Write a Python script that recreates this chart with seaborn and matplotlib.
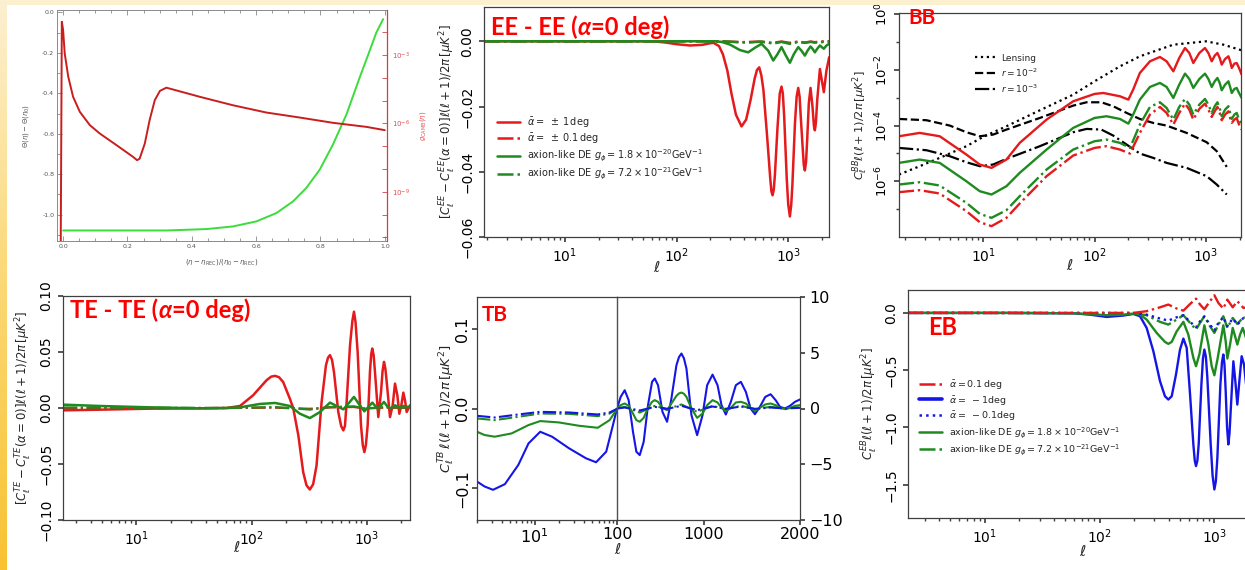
import matplotlib
matplotlib.use("Agg")
import matplotlib.pyplot as plt
import numpy as np
import seaborn as sns
from matplotlib.lines import Line2D
from matplotlib.patches import Rectangle
from matplotlib.colors import LinearSegmentedColormap
from matplotlib.ticker import FixedLocator, FixedFormatter, NullFormatter, MultipleLocator

# ---------------------------------------------------------------- data
# birefringence angle history: Theta(eta)-Theta(eta0) and visibility g(eta)
theta_x = [0.0, 0.321, 0.446, 0.528, 0.601, 0.663, 0.715, 0.756, 0.798, 0.839, 0.881, 0.922, 0.953, 0.974, 0.995]
theta_y = [-1.078, -1.078, -1.071, -1.058, -1.033, -0.992, -0.934, -0.868, -0.777, -0.653, -0.504, -0.322, -0.190, -0.099, -0.033]
g_x = [-0.0073, -0.004, 0.0, 0.005, 0.016, 0.031, 0.052, 0.083, 0.114, 0.166, 0.218, 0.230, 0.238, 0.254, 0.269,
       0.285, 0.301, 0.321, 0.342, 0.425, 0.528, 0.632, 0.736, 0.839, 0.943, 1.0]
g_y = [7.1e-12, 2.9e-2, 1.26e-2, 1.17e-3, 1.12e-4, 1.48e-5, 3.24e-6, 8.5e-7, 3.63e-7, 1.12e-7, 3.39e-8, 2.45e-8,
       2.88e-8, 1.32e-7, 1.41e-6, 1.05e-5, 2.69e-5, 3.72e-5, 3.09e-5, 1.48e-5, 6.3e-6, 3.02e-6, 1.82e-6, 1.07e-6,
       7.1e-7, 5.1e-7]

# EE difference spectra
ee_ell_a1 = [1.88, 20, 62, 80, 100, 132, 170, 200, 215, 240, 260, 285, 310, 340, 382, 420, 460, 500, 525, 550,
             575, 600, 650, 690, 707, 724, 742, 760, 800, 840, 871, 895, 920, 970, 1000, 1035, 1065, 1090, 1150,
             1190, 1230, 1265, 1300, 1350, 1380, 1410, 1445, 1480, 1530, 1585, 1650, 1700, 1733, 1770, 1820, 1923,
             2000, 2086, 2200, 2328]
ee_a1 = [0, 0, 0, -0.0004, -0.0009, -0.0013, -0.0011, -0.0006, -0.0005, -0.0015, -0.0040, -0.0090, -0.0160,
         -0.0225, -0.0261, -0.0240, -0.0180, -0.0115, -0.0088, -0.0080, -0.0105, -0.0150, -0.0300, -0.0420,
         -0.0460, -0.0472, -0.0455, -0.0410, -0.0270, -0.0160, -0.0139, -0.0160, -0.0230, -0.0420, -0.0500,
         -0.0537, -0.0500, -0.0440, -0.0250, -0.0170, -0.0143, -0.0170, -0.0240, -0.0330, -0.0380, -0.0396,
         -0.0370, -0.0300, -0.0190, -0.0143, -0.0200, -0.0260, -0.0273, -0.0250, -0.0180, -0.0085, -0.0120,
         -0.0156, -0.0090, -0.0049]
ee_ell_a01 = [1.88, 250, 382, 550, 724, 871, 1035, 1230, 1410, 1585, 1733, 1923, 2328]
ee_a01 = [0, 0, -0.0003, -0.0001, -0.0005, -0.0001, -0.0005, -0.0001, -0.0004, -0.0001, -0.0003, -0.0001, 0]
ee_ell_g18 = [1.88, 123, 220, 253, 300, 369, 438, 503, 577, 662, 734, 797, 871, 953, 1035, 1125, 1230, 1315,
              1410, 1489, 1585, 1652, 1733, 1820, 1923, 2000, 2086, 2203, 2328]
ee_g18 = [0, 0, 0, -0.0002, -0.0010, -0.0027, -0.0034, -0.0020, -0.0008, -0.0029, -0.0059, -0.0041, -0.0018,
          -0.0044, -0.0066, -0.0039, -0.0018, -0.0029, -0.0044, -0.0029, -0.0016, -0.0023, -0.0034, -0.0023,
          -0.0013, -0.0018, -0.0023, -0.0013, -0.0008]
ee_ell_g72 = [1.88, 250, 438, 577, 734, 871, 1035, 1230, 1410, 1585, 1733, 2328]
ee_g72 = [0, 0, -0.0004, -0.0001, -0.0007, -0.0002, -0.0008, -0.0002, -0.0005, -0.0002, -0.0004, -0.0001]

# BB spectra
bb_ell_lens = [1.76, 2.70, 4.08, 7.08, 10, 16.2, 32.3, 64.3, 100, 169, 255, 509, 1000, 1432, 2089]
bb_lens = [1.74e-6, 3.47e-6, 6.90e-6, 1.81e-5, 3.90e-5, 9.41e-5, 3.52e-4, 1.28e-3, 3.86e-3, 1.33e-2, 3.04e-2,
           7.96e-2, 1.05e-1, 7.96e-2, 4.99e-2]
bb_ell_r = [1.76, 3.10, 5.03, 7.08, 9.33, 12.3, 16.2, 32.3, 64.3, 84.7, 115, 147, 194, 255, 336, 443, 670, 1014,
            1248, 1535]
bb_r2 = [1.72e-4, 1.55e-4, 9.95e-5, 5.74e-5, 4.12e-5, 4.73e-5, 7.15e-5, 1.87e-4, 5.18e-4, 6.82e-4, 6.82e-4,
         4.91e-4, 2.83e-4, 1.72e-4, 1.24e-4, 9.95e-5, 5.43e-5, 2.51e-5, 1.20e-5, 3.28e-6]
bb_r3 = [1.57e-5, 1.30e-5, 7.91e-6, 4.82e-6, 3.47e-6, 3.98e-6, 6.35e-6, 1.81e-5, 5.74e-5, 7.55e-5, 7.15e-5,
         4.36e-5, 2.07e-5, 9.87e-6, 6.90e-6, 4.56e-6, 3.02e-6, 1.52e-6, 7.63e-7, 3.34e-7]
bb_ell_a1 = [1.76, 2.70, 4.08, 7.08, 9.33, 11.9, 16.2, 21.3, 37.1, 64.3, 100, 120, 169, 201, 222, 255, 314, 386,
             443, 509, 575, 648, 708, 769, 871, 979, 1050, 1125, 1197, 1265, 1327, 1383, 1483, 1589, 1645, 1702,
             1796, 1885, 1978, 2089]
bb_a1 = [4.12e-5, 5.43e-5, 4.12e-5, 9.08e-6, 3.98e-6, 3.02e-6, 6.01e-6, 2.38e-5, 1.63e-4, 7.41e-4, 1.36e-3,
         1.47e-3, 1.12e-3, 8.50e-4, 1.94e-3, 7.68e-3, 2.01e-2, 2.88e-2, 2.01e-2, 8.81e-3, 2.65e-2, 6.04e-2,
         4.00e-2, 1.75e-2, 4.00e-2, 6.04e-2, 4.00e-2, 2.01e-2, 3.21e-2, 4.00e-2, 2.65e-2, 1.53e-2, 2.44e-2,
         3.04e-2, 2.01e-2, 1.16e-2, 1.66e-2, 1.75e-2, 1.16e-2, 6.70e-3]
bb_ell_g18 = [1.76, 2.70, 4.08, 7.08, 9.33, 11.9, 16.2, 21.3, 37.1, 64.3, 100, 128, 169, 201, 222, 255, 314, 386,
              443, 509, 575, 648, 708, 769, 871, 979, 1050, 1125, 1197, 1265, 1327, 1383, 1483, 1589, 1645, 1702,
              1796, 1885, 1978, 2089]
bb_g18 = [4.56e-6, 6.01e-6, 4.56e-6, 1.00e-6, 4.40e-7, 3.34e-7, 6.65e-7, 2.00e-6, 1.37e-5, 8.20e-5, 1.87e-4,
          2.15e-4, 1.72e-4, 1.17e-4, 2.47e-4, 8.50e-4, 2.42e-3, 3.37e-3, 2.42e-3, 9.75e-4, 2.93e-3, 7.27e-3,
          4.68e-3, 2.23e-3, 4.68e-3, 7.27e-3, 4.68e-3, 2.42e-3, 3.86e-3, 5.08e-3, 3.37e-3, 1.84e-3, 2.93e-3,
          3.86e-3, 2.42e-3, 1.47e-3, 2.05e-3, 2.23e-3, 1.47e-3, 9.75e-4]
bb_ell_small = [1.76, 2.70, 4.08, 7.08, 9.33, 11.9, 16.2, 21.3, 37.1, 64.3, 100, 128, 169, 208, 255, 314, 386,
                443, 509, 575, 648, 708, 769, 871, 979, 1050, 1125, 1197, 1265, 1327, 1383, 1483, 1589, 1645,
                1702, 1796, 1885, 1978, 2089]
bb_a01 = [4.06e-7, 4.79e-7, 3.63e-7, 8.45e-8, 3.41e-8, 2.45e-8, 4.87e-8, 1.59e-7, 1.52e-6, 8.36e-6, 1.57e-5,
          1.81e-5, 1.37e-5, 9.87e-6, 5.43e-5, 2.47e-4, 4.64e-4, 2.83e-4, 1.08e-4, 2.83e-4, 6.11e-4, 3.72e-4,
          1.63e-4, 3.94e-4, 6.11e-4, 3.72e-4, 2.03e-4, 3.24e-4, 4.64e-4, 2.83e-4, 1.55e-4, 2.47e-4, 3.24e-4,
          1.87e-4, 1.24e-4, 1.63e-4, 1.87e-4, 1.08e-4, 7.15e-5]
bb_g72 = [7.63e-7, 9.26e-7, 7.03e-7, 1.68e-7, 6.79e-8, 4.87e-8, 9.18e-8, 2.91e-7, 2.63e-6, 1.37e-5, 2.73e-5,
          3.13e-5, 2.38e-5, 1.57e-5, 1.08e-4, 4.64e-4, 6.82e-4, 4.28e-4, 1.63e-4, 4.64e-4, 8.98e-4, 5.63e-4,
          2.47e-4, 5.63e-4, 8.98e-4, 5.63e-4, 2.83e-4, 4.91e-4, 6.82e-4, 4.28e-4, 2.15e-4, 3.72e-4, 4.91e-4,
          2.83e-4, 1.72e-4, 2.47e-4, 2.83e-4, 1.63e-4, 1.08e-4]

# TE difference spectra
te_ell_a1 = [2.30, 4.80, 13.1, 35.6, 60.7, 79.3, 103, 135, 148, 160, 173, 188, 215, 230, 255, 281, 300, 321, 343,
             367, 406, 443, 462, 480, 500, 520, 567, 600, 627, 648, 670, 717, 752, 776, 800, 835, 893, 925, 955,
             985, 1020, 1068, 1095, 1119, 1150, 1181, 1262, 1333, 1375, 1415, 1455, 1503, 1595, 1683, 1763, 1848,
             1923, 2001, 2083, 2153, 2227, 2380]
te_a1 = [-0.0021, -0.0015, -0.0006, -0.0003, 0, 0.0018, 0.0113, 0.0248, 0.0280, 0.0287, 0.0275, 0.0233, 0.0084,
         0, -0.0245, -0.0573, -0.0690, -0.0728, -0.0680, -0.0513, 0.0054, 0.0382, 0.0450, 0.0472, 0.0430, 0.0322,
         -0.0036, -0.0160, -0.0200, -0.0160, 0.0054, 0.0561, 0.0780, 0.0860, 0.0770, 0.0501, -0.0155, -0.0330,
         -0.0394, -0.0330, -0.0155, 0.0322, 0.0480, 0.0531, 0.0470, 0.0322, -0.0081, 0.0143, 0.0330, 0.0412,
         0.0350, 0.0203, -0.0081, 0.0024, 0.0218, 0.0113, -0.0051, 0.0024, 0.0137, 0.0069, -0.0036, 0.0024]
te_ell_g18 = [2.30, 4.80, 13.1, 35.6, 60.7, 79.3, 118, 160, 215, 263, 321, 393, 480, 548, 627, 693, 776, 864,
              955, 1033, 1119, 1189, 1262, 1333, 1415, 1503, 1595, 1763, 1923, 2083, 2380]
te_g18 = [0.0030, 0.0018, 0.0006, -0.0003, 0, 0.0006, 0.0036, 0.0045, 0.0018, -0.0051, -0.0090, -0.0036, 0.0048,
          0.0018, -0.0012, 0.0039, 0.0099, 0.0030, -0.0030, 0.0009, 0.0048, 0.0018, -0.0012, 0.0024, 0.0054,
          0.0018, -0.0006, 0.0024, 0.0006, 0.0018, 0.0006]
te_ell_small = [2.30, 60, 160, 321, 480, 776, 955, 1415, 2380]
te_a01 = [-0.0003, 0, 0.0003, -0.0007, 0.0005, 0.0009, -0.0004, 0.0003, 0]
te_g72 = [0.0005, 0, 0.0008, -0.0014, 0.0008, 0.0015, -0.0005, 0.0008, 0.0002]

# TB spectra: log part (left scale) and linear part (right scale)
tb_ell_lo = [2.0, 2.47, 3.13, 4.36, 6.35, 8.44, 11.7, 16.3, 26.2, 42.0, 55.7, 74.0, 89.3, 100]
tb_blue_lo = [-0.0917, -0.0979, -0.1021, -0.0950, -0.0708, -0.0438, -0.0292, -0.0354, -0.0500, -0.0625,
              -0.0675, -0.0542, -0.0208, 0.0]
tb_ell_lo_g = [2.0, 2.47, 3.28, 5.26, 8.44, 11.7, 19.7, 34.7, 58.4, 81.3, 100]
tb_green_lo = [-0.0292, -0.0333, -0.0354, -0.0313, -0.0208, -0.0158, -0.0175, -0.0217, -0.0242, -0.0146, -0.0008]
tb_ell_lo_dd = [2.0, 3.28, 6.35, 11.7, 26.2, 58.4, 81.3, 100]
tb_green_dd_lo = [-0.0125, -0.0146, -0.0104, -0.0063, -0.0067, -0.0096, -0.0063, -0.0008]
tb_blue_dd_lo = [-0.0092, -0.0113, -0.0075, -0.0042, -0.0050, -0.0075, -0.0050, -0.0004]
tb_ell_hi = [100, 138, 180, 221, 266, 301, 336, 377, 422, 464, 492, 526, 572, 620, 665, 717, 743, 769, 795, 821,
             873, 932, 988, 1036, 1092, 1144, 1185, 1230, 1282, 1334, 1386, 1438, 1487, 1532, 1584, 1639, 1695,
             1747, 1792, 1844, 1896, 1948, 2000]
tb_blue_hi = [0, 1.04, 1.64, 0.75, -2.09, -3.88, -4.18, -2.99, 0.30, 2.39, 2.69, 2.09, -0.30, -1.19, 0.90, 3.88,
              4.60, 4.93, 4.50, 3.58, -0.60, -2.39, -0.60, 2.09, 3.04, 2.09, 0.30, -0.54, 0.60, 2.09, 2.39, 1.49,
              0, -0.51, 0.15, 1.04, 1.28, 0.75, 0.15, 0, 0.24, 0.60, 0.81]
tb_green_hi = [-0.03, 0.30, 0.45, 0.24, -0.45, -1.04, -1.19, -0.84, 0.06, 0.60, 0.75, 0.60, 0.06, -0.15, 0.45,
               1.13, 1.35, 1.43, 1.32, 1.04, 0.0, -0.84, -0.45, 0.30, 0.75, 0.54, 0.06, -0.24, 0.06, 0.54, 0.60,
               0.45, 0.06, -0.24, 0.06, 0.36, 0.45, 0.30, 0.06, -0.06, 0.06, 0.24, 0.30]
tb_ell_hi_dd = [100, 180, 336, 492, 620, 769, 932, 1092, 1230, 1386, 1532, 1695, 1844, 2000]
tb_green_dd_hi = [0, 0.15, -0.36, 0.24, -0.06, 0.36, -0.30, 0.24, -0.06, 0.24, -0.06, 0.15, 0.0, 0.12]
tb_blue_dd_hi = [0, 0.09, -0.18, 0.15, -0.03, 0.24, -0.15, 0.18, -0.03, 0.18, -0.03, 0.09, 0.0, 0.06]

# EB spectra
eb_ell_m1 = [2.14, 15.5, 58.9, 82.3, 115, 161, 197, 225, 257, 294, 336, 371, 397, 425, 463, 502, 537, 574, 614,
             656, 675, 692, 711, 730, 771, 795, 818, 843, 869, 929, 965, 1000, 1030, 1062, 1128, 1165, 1197, 1225,
             1255, 1290, 1324, 1355, 1387, 1464, 1523, 1585, 1651, 1729, 1814, 1914, 2046, 2263]
eb_m1 = [0, 0, -0.003, -0.015, -0.035, -0.023, -0.009, -0.029, -0.131, -0.334, -0.596, -0.727, -0.756, -0.727,
         -0.538, -0.320, -0.224, -0.305, -0.712, -1.148, -1.290, -1.337, -1.290, -1.148, -0.625, -0.400, -0.320,
         -0.380, -0.567, -1.148, -1.420, -1.541, -1.470, -1.265, -0.625, -0.430, -0.363, -0.450, -0.683, -1.000,
         -1.148, -1.050, -0.858, -0.422, -0.596, -0.800, -0.596, -0.378, -0.451, -0.683, -0.712, -0.480]
eb_ell_g18 = [2.14, 15.5, 58.9, 115, 161, 197, 225, 257, 314, 371, 397, 425, 470, 537, 593, 656, 692, 740, 818,
              887, 948, 1000, 1070, 1197, 1255, 1297, 1370, 1445, 1514, 1585, 1675, 1766, 1888, 2046, 2263]
eb_g18 = [0, 0, -0.003, -0.020, -0.015, -0.006, -0.015, -0.058, -0.174, -0.253, -0.270, -0.253, -0.160, -0.078,
          -0.189, -0.392, -0.465, -0.363, -0.108, -0.276, -0.465, -0.544, -0.392, -0.108, -0.247, -0.398, -0.276,
          -0.131, -0.203, -0.276, -0.189, -0.131, -0.218, -0.233, -0.160]
eb_ell_small = [2.14, 197, 257, 336, 397, 470, 537, 614, 692, 750, 818, 916, 1000, 1084, 1197, 1297, 1445, 1585,
                1791, 2263]
eb_g72 = [0, -0.003, -0.020, -0.078, -0.102, -0.058, -0.020, -0.087, -0.145, -0.087, -0.029, -0.116, -0.174,
          -0.102, -0.029, -0.131, -0.044, -0.096, -0.038, -0.058]
eb_m01 = [0, 0, -0.015, -0.049, -0.067, -0.038, -0.020, -0.078, -0.125, -0.073, -0.032, -0.102, -0.154, -0.087,
          -0.038, -0.116, -0.049, -0.102, -0.044, -0.058]
eb_p01 = [0, 0, 0.015, 0.049, 0.073, 0.038, 0.020, 0.078, 0.125, 0.073, 0.032, 0.102, 0.154, 0.087, 0.038, 0.116,
          0.049, 0.102, 0.044, 0.058]

# ---------------------------------------------------------------- style
sns.set_theme(style="ticks")
plt.rcParams["font.family"] = ["DejaVu Sans"]
plt.rcParams.update({
    "mathtext.fontset": "dejavusans",
    "axes.edgecolor": "#404040",
    "axes.linewidth": 0.9,
    "xtick.color": "#404040",
    "ytick.color": "#404040",
    "xtick.labelcolor": "black",
    "ytick.labelcolor": "black",
    "xtick.major.size": 3.5,
    "ytick.major.size": 3.5,
    "xtick.minor.size": 2.0,
    "ytick.minor.size": 2.0,
    "axes.facecolor": "white",
    "lines.solid_joinstyle": "round",
    "lines.solid_capstyle": "round",
})

RED, GREEN, BLUE = "#e41a1c", "#1f8a1f", "#1515e6"
TITLE_RED = "#ff0000"
TITLE_FONT = ["Lato", "Open Sans", "DejaVu Sans"]

W, H = 1245, 570
fig = plt.figure(figsize=(W / 100, H / 100), dpi=100, facecolor="white")


def rect(l, t, r, b):
    return [l / W, 1 - b / H, (r - l) / W, (b - t) / H]


def draw(ax, x, y, color, ls="-", lw=1.7, z=2):
    sns.lineplot(x=x, y=y, ax=ax, color=color, linestyle=ls, linewidth=lw, sort=False,
                 estimator=None, errorbar=None, legend=False, zorder=z)


def ylab(ax, text, xpix, size):
    ax.set_ylabel(text, fontsize=size)
    bb = ax.get_position()
    ax.yaxis.set_label_coords((xpix / W - bb.x0) / bb.width, 0.5)
    ax.yaxis.label.set_va("center")


def xlab(ax, ypix, size=11):
    ax.set_xlabel(r"$\ell$", fontsize=size)
    bb = ax.get_position()
    ax.xaxis.set_label_coords(0.5, ((1 - ypix / H) - bb.y0) / bb.height)
    ax.xaxis.label.set_va("center")


def title(xpix, ypix, parts, size):
    """Panel tag drawn piecewise so the Greek letter can be italic."""
    renderer = fig.canvas.get_renderer()
    x = xpix / W
    for txt, style in parts:
        t = fig.text(x, 1 - ypix / H, txt, color=TITLE_RED, fontsize=size, fontweight="bold",
                     fontstyle=style, family=TITLE_FONT, va="baseline", ha="left")
        x = fig.transFigure.inverted().transform(t.get_window_extent(renderer).p1)[0]


def rot_yticks(ax, size, pad=3.5):
    ax.tick_params(axis="y", labelsize=size, labelrotation=90, pad=pad)
    for lab in ax.get_yticklabels():
        lab.set_va("center")


# ---------------------------------------------------------------- panel 1
ax1 = fig.add_axes(rect(57, 10, 387, 241))
ax1.set_xlim(-0.019, 1.007)
ax1.set_ylim(-1.13, 0.012)
draw(ax1, theta_x, theta_y, "#3bdc3b", lw=1.4)
ax1.set_xticks([0, 0.2, 0.4, 0.6, 0.8, 1.0])
ax1.set_xticklabels(["0.0", "0.2", "0.4", "0.6", "0.8", "1.0"])
ax1.xaxis.set_minor_locator(MultipleLocator(0.05))
ax1.set_yticks([0, -0.2, -0.4, -0.6, -0.8, -1.0])
ax1.set_yticklabels(["0.0", "-0.2", "-0.4", "-0.6", "-0.8", "-1.0"])
ax1.yaxis.set_minor_locator(MultipleLocator(0.1))
ax1.tick_params(which="both", direction="in", top=True, colors="#888888", labelcolor="#555555",
                labelsize=4.5, width=0.6, pad=2)
ax1.tick_params(which="major", length=3.5)
ax1.tick_params(which="minor", length=2)
for s in ax1.spines.values():
    s.set_color("#8a8a8a")
    s.set_linewidth(0.7)
ax1.set_xlabel(r"$(\eta-\eta_{\rm REC})/(\eta_0-\eta_{\rm REC})$", fontsize=5, color="#555555", labelpad=6)
ax1.set_ylabel(r"$\Theta(\eta)-\Theta(\eta_0)$", fontsize=5, color="#555555", labelpad=8)
ax1r = ax1.twinx()
ax1r.set_yscale("log")
ax1r.set_ylim(7e-12, 9.5e-2)
draw(ax1r, g_x, g_y, "#c81e1e", lw=1.4)
ax1r.yaxis.set_major_locator(FixedLocator([1e-9, 1e-6, 1e-3]))
ax1r.yaxis.set_major_formatter(FixedFormatter([r"$10^{-9}$", r"$10^{-6}$", r"$10^{-3}$"]))
ax1r.yaxis.set_minor_locator(FixedLocator([10.0 ** k for k in range(-11, -1)]))
ax1r.yaxis.set_minor_formatter(NullFormatter())
ax1r.tick_params(which="both", direction="in", colors="#d04040", labelcolor="#e05050", labelsize=5, width=0.6)
ax1r.tick_params(which="major", length=3.5)
ax1r.tick_params(which="minor", length=3.5)
for k, s in ax1r.spines.items():
    s.set_visible(k == "right")
ax1r.spines["right"].set_color("#d04040")
ax1r.set_ylabel(r"$g_{\rm CAMB}(\eta)$", fontsize=5, color="#e05050")
ax1r.yaxis.set_label_coords((418 - 57) / 330, 0.5)

# ---------------------------------------------------------------- panel 2: EE
ax2 = fig.add_axes(rect(484, 7, 829, 237))
ax2.set_xscale("log")
draw(ax2, ee_ell_a1, ee_a1, RED, lw=1.8)
draw(ax2, ee_ell_a01, ee_a01, RED, ls="-.", lw=1.8)
draw(ax2, ee_ell_g18, ee_g18, GREEN, lw=1.8)
draw(ax2, ee_ell_g72, ee_g72, GREEN, ls="-.", lw=1.8)
ax2.set_xlim(1.88, 2320)
ax2.set_ylim(-0.06, 0.0105)
ax2.yaxis.set_major_locator(FixedLocator([0, -0.02, -0.04, -0.06]))
ax2.yaxis.set_major_formatter(FixedFormatter(["0.00", "\u22120.02", "\u22120.04", "\u22120.06"]))
ax2.tick_params(axis="x", labelsize=10)
rot_yticks(ax2, 10)
ylab(ax2, r"$[C_\ell^{EE}-C_\ell^{EE}(\alpha=0)]\ell(\ell+1)/2\pi\,[\mu K^2]$", 448, 8.5)
xlab(ax2, 267)
ax2.legend(handles=[Line2D([], [], color=RED, lw=1.8),
                    Line2D([], [], color=RED, lw=1.8, ls="-."),
                    Line2D([], [], color=GREEN, lw=1.8),
                    Line2D([], [], color=GREEN, lw=1.8, ls="-.")],
           labels=[r"$\bar{\alpha} =\ \pm\,1\,$deg", r"$\bar{\alpha} =\ \pm\,0.1\,$deg",
                   r"axion-like DE $g_\phi = 1.8\times10^{-20}$GeV$^{-1}$",
                   r"axion-like DE $g_\phi = 7.2\times10^{-21}$GeV$^{-1}$"],
           loc="upper left", bbox_to_anchor=(0.025, 0.545), frameon=False, fontsize=7,
           handlelength=2.4, labelspacing=0.22, handletextpad=0.7, borderaxespad=0)

# ---------------------------------------------------------------- panel 3: BB
ax3 = fig.add_axes(rect(899, 13, 1241, 237))
ax3.set_xscale("log")
ax3.set_yscale("log")
draw(ax3, bb_ell_lens, bb_lens, "black", ls=":", lw=1.6)
draw(ax3, bb_ell_r, bb_r2, "black", ls="--", lw=1.6)
draw(ax3, bb_ell_r, bb_r3, "black", ls="-.", lw=1.6)
draw(ax3, bb_ell_a1, bb_a1, RED, lw=1.7)
draw(ax3, bb_ell_g18, bb_g18, GREEN, lw=1.7)
draw(ax3, bb_ell_small, bb_a01, RED, ls="-.", lw=1.7)
draw(ax3, bb_ell_small, bb_g72, GREEN, ls="-.", lw=1.7)
ax3.set_xlim(1.76, 2060)
ax3.set_ylim(1.0e-8, 1.09)
ax3.yaxis.set_major_locator(FixedLocator([1e-6, 1e-4, 1e-2, 1.0]))
ax3.yaxis.set_major_formatter(FixedFormatter([r"$10^{-6}$", r"$10^{-4}$", r"$10^{-2}$", r"$10^{0}$"]))
ax3.yaxis.set_minor_locator(FixedLocator([1e-7, 1e-5, 1e-3, 1e-1]))
ax3.yaxis.set_minor_formatter(NullFormatter())
ax3.tick_params(axis="x", labelsize=10)
rot_yticks(ax3, 9.5, pad=2.5)
ylab(ax3, r"$C_\ell^{BB}\ell(\ell+1)/2\pi\,[\mu K^2]$", 860, 8.2)
xlab(ax3, 265)
ax3.legend(handles=[Line2D([], [], color="black", lw=1.6, ls=":"),
                    Line2D([], [], color="black", lw=1.6, ls="--"),
                    Line2D([], [], color="black", lw=1.6, ls="-.")],
           labels=["Lensing", r"$r = 10^{-2}$", r"$r = 10^{-3}$"],
           loc="upper left", bbox_to_anchor=(0.212, 0.835), frameon=False, fontsize=6.5,
           handlelength=2.2, labelspacing=0.4, handletextpad=0.7, borderaxespad=0)

# ---------------------------------------------------------------- panel 4: TE
ax4 = fig.add_axes(rect(63, 296, 410, 520))
ax4.set_xscale("log")
draw(ax4, te_ell_a1, te_a1, RED, lw=1.8)
draw(ax4, te_ell_g18, te_g18, GREEN, lw=1.8)
draw(ax4, te_ell_small, te_a01, RED, ls="-.", lw=1.6)
draw(ax4, te_ell_small, te_g72, GREEN, ls="-.", lw=1.6)
ax4.set_xlim(2.30, 2380)
ax4.set_ylim(-0.1, 0.1)
ax4.yaxis.set_major_locator(FixedLocator([-0.1, -0.05, 0, 0.05, 0.1]))
ax4.yaxis.set_major_formatter(FixedFormatter(["\u22120.10", "\u22120.05", "0.00", "0.05", "0.10"]))
ax4.tick_params(axis="x", labelsize=10)
rot_yticks(ax4, 10)
ylab(ax4, r"$[C_\ell^{TE}-C_\ell^{TE}(\alpha=0)]\ell(\ell+1)/2\pi\,[\mu K^2]$", 24, 8.5)
xlab(ax4, 547)

# ---------------------------------------------------------------- panel 5: TB (log | linear)
ax5 = fig.add_axes(rect(477, 297, 617, 520))
ax5.set_xscale("log")
draw(ax5, tb_ell_lo, tb_blue_lo, BLUE, lw=1.5)
draw(ax5, tb_ell_lo_g, tb_green_lo, GREEN, lw=1.5)
draw(ax5, tb_ell_lo_dd, tb_green_dd_lo, GREEN, ls="-.", lw=1.5)
draw(ax5, tb_ell_lo_dd, tb_blue_dd_lo, BLUE, ls="-.", lw=1.5)
ax5.set_xlim(2.0, 100)
ax5.set_ylim(-0.14, 0.14)
ax5.xaxis.set_major_locator(FixedLocator([10, 100]))
ax5.xaxis.set_major_formatter(FixedFormatter([r"$10^{1}$", "100"]))
ax5.yaxis.set_major_locator(FixedLocator([-0.1, 0, 0.1]))
ax5.yaxis.set_major_formatter(FixedFormatter(["\u22120.1", "0.0", "0.1"]))
ax5.spines["right"].set_visible(False)
ax5.tick_params(axis="x", labelsize=11.5, pad=1.5)
rot_yticks(ax5, 11.5, pad=1.5)
ylab(ax5, r"$C_\ell^{TB}\,\ell(\ell+1)/2\pi\,[\mu K^2]$", 447, 9.5)

ax5r = fig.add_axes(rect(617, 297, 800, 520))
draw(ax5r, tb_ell_hi, tb_blue_hi, BLUE, lw=1.5)
draw(ax5r, tb_ell_hi, tb_green_hi, GREEN, lw=1.5)
draw(ax5r, tb_ell_hi_dd, tb_green_dd_hi, GREEN, ls="-.", lw=1.5)
draw(ax5r, tb_ell_hi_dd, tb_blue_dd_hi, BLUE, ls="-.", lw=1.5)
ax5r.set_xlim(100, 2000)
ax5r.set_ylim(-10, 10)
ax5r.xaxis.set_major_locator(FixedLocator([1000, 2000]))
ax5r.xaxis.set_major_formatter(FixedFormatter(["1000", "2000"]))
ax5r.yaxis.tick_right()
ax5r.yaxis.set_major_locator(FixedLocator([-10, -5, 0, 5, 10]))
ax5r.yaxis.set_major_formatter(FixedFormatter(["\u221210", "\u22125", "0", "5", "10"]))
ax5r.tick_params(axis="both", labelsize=11.5)
ax5r.tick_params(axis="x", pad=1.5)
ax5r.spines["left"].set_color("#505050")
ax5r.spines["left"].set_linewidth(1.0)
fig.text(618 / W, 1 - 549 / H, r"$\ell$", fontsize=11, ha="center", va="center")

# ---------------------------------------------------------------- panel 6: EB
ax6 = fig.add_axes(rect(908, 290, 1258, 518))
ax6.set_xscale("log")
draw(ax6, eb_ell_m1, eb_m1, BLUE, lw=1.7)
draw(ax6, eb_ell_g18, eb_g18, GREEN, lw=1.7)
draw(ax6, eb_ell_small, eb_g72, GREEN, ls="-.", lw=1.7)
draw(ax6, eb_ell_small, eb_m01, BLUE, ls=":", lw=1.7)
draw(ax6, eb_ell_small, eb_p01, RED, ls="-.", lw=1.7)
ax6.set_xlim(2.14, 2400)
ax6.set_ylim(-1.79, 0.2)
ax6.yaxis.set_major_locator(FixedLocator([0, -0.5, -1.0, -1.5]))
ax6.yaxis.set_major_formatter(FixedFormatter(["0.0", "\u22120.5", "\u22121.0", "\u22121.5"]))
ax6.tick_params(axis="x", labelsize=10)
rot_yticks(ax6, 10)
ylab(ax6, r"$C_\ell^{EB}\ell(\ell+1)/2\pi\,[\mu K^2]$", 870, 8.5)
xlab(ax6, 552)
ax6.legend(handles=[Line2D([], [], color=RED, lw=1.8, ls="-."),
                    Line2D([], [], color=BLUE, lw=2.6),
                    Line2D([], [], color=BLUE, lw=1.8, ls=":"),
                    Line2D([], [], color=GREEN, lw=1.8),
                    Line2D([], [], color=GREEN, lw=1.8, ls="-.")],
           labels=[r"$\bar{\alpha} = 0.1\,$deg", r"$\bar{\alpha} =\ -1$deg", r"$\bar{\alpha} =\ -0.1$deg",
                   r"axion-like DE $g_\phi = 1.8\times10^{-20}$GeV$^{-1}$",
                   r"axion-like DE $g_\phi = 7.2\times10^{-21}$GeV$^{-1}$"],
           loc="upper left", bbox_to_anchor=(0.022, 0.63), frameon=False, fontsize=6.8,
           handlelength=2.4, labelspacing=0.28, handletextpad=0.7, borderaxespad=0)

# ---------------------------------------------------------------- panel tags
title(491, 35, [("EE - EE (", "normal"), ("\u03b1", "italic"), ("=0 deg)", "normal")], 17)
title(70, 318, [("TE - TE (", "normal"), ("\u03b1", "italic"), ("=0 deg)", "normal")], 17)
title(908, 24, [("BB", "normal")], 15)
title(482, 321, [("TB", "normal")], 15)
title(928, 335, [("EB", "normal")], 17)

# ---------------------------------------------------------------- slide border
fig.add_artist(Rectangle((0, 1 - 5 / H), 1, 5 / H, transform=fig.transFigure,
                         color="#fcf0cf", lw=0, zorder=10))
strip = fig.add_axes([0, 0, 6 / W, 1], zorder=11)
strip.imshow(np.linspace(0, 1, 256)[:, None], aspect="auto",
             cmap=LinearSegmentedColormap.from_list("strip", ["#fdf0d2", "#fbd874", "#f8c232"]))
strip.axis("off")

fig.savefig("out.png", dpi=100, facecolor="white")
